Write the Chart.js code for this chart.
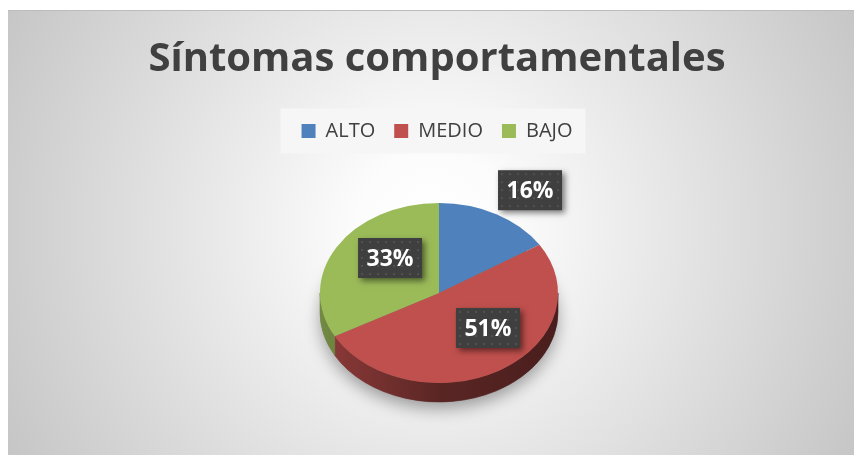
<!DOCTYPE html>
<html lang="es">
<head>
<meta charset="UTF-8">
<title>Síntomas comportamentales</title>
<script src="https://cdn.jsdelivr.net/npm/chart.js"></script>
<style>
  html, body { margin: 0; padding: 0; background: #fff; }
</style>
</head>
<body>
<canvas id="myChart" width="854" height="455"></canvas>
<script>
// chart data
const chartTitle = 'Síntomas comportamentales';
const categories = ['ALTO', 'MEDIO', 'BAJO'];
const values = [16, 51, 33];
const colors = ['#4f81bd', '#c0504d', '#9bbb59'];

// where the 3d pie sits on the page (tilted ellipse)
const PIE = { cx: 439, cy: 293, tilt: 0.756, depth: 19 };
// label anchor: radius factor and angle nudge (deg) from the slice middle
const LABEL_PLACE = [
  { f: 1.375, shift: 5 },
  { f: 0.566, shift: -16 },
  { f: 0.566, shift: 12.8 }
];

const shade = (hex, k) => {
  const n = parseInt(hex.slice(1), 16);
  const r = Math.round(((n >> 16) & 255) * k);
  const g = Math.round(((n >> 8) & 255) * k);
  const b = Math.round((n & 255) * k);
  return `rgb(${r},${g},${b})`;
};

// background gradient + legend panel
const bgPlugin = {
  id: 'bg',
  beforeDraw(chart) {
    const ctx = chart.ctx;
    ctx.save();
    ctx.fillStyle = '#fff';
    ctx.fillRect(0, 0, chart.width, chart.height);
    const g = ctx.createRadialGradient(432, 228, 0, 432, 228, 500);
    g.addColorStop(0, '#ffffff');
    g.addColorStop(0.15, '#fcfcfc');
    g.addColorStop(1, '#c3c3c3');
    ctx.fillStyle = g;
    ctx.fillRect(8, 10, chart.width - 8, chart.height - 10);
    ctx.fillStyle = '#bcbcbc';
    ctx.fillRect(8, 10, chart.width - 8, 1);

    const lg = chart.legend;
    if (lg && lg.legendHitBoxes && lg.legendHitBoxes.length) {
      const hb = lg.legendHitBoxes;
      const first = hb[0], last = hb[hb.length - 1];
      const left = first.left - 21;
      const right = last.left + last.width + 13;
      const mid = first.top + first.height / 2;
      ctx.fillStyle = '#f6f6f6';
      ctx.fillRect(left, mid - 22.5, right - left, 45);
    }
    ctx.restore();
  }
};

// draws side walls + shadow, then squashes the pie into an ellipse
const pie3d = {
  id: 'pie3d',
  beforeDatasetsDraw(chart) {
    const ctx = chart.ctx;
    const arcs = chart.getDatasetMeta(0).data;
    const rx = arcs[0].outerRadius;
    const ry = rx * PIE.tilt;
    const D = PIE.depth;

    ctx.save();
    ctx.shadowColor = 'rgba(0,0,0,0.35)';
    ctx.shadowBlur = 16;
    ctx.shadowOffsetY = 7;
    ctx.fillStyle = '#777';
    ctx.beginPath();
    ctx.ellipse(PIE.cx, PIE.cy + D, rx, ry, 0, 0, Math.PI * 2);
    ctx.fill();
    ctx.restore();

    arcs.forEach((arc, i) => {
      const s = arc.startAngle, e = arc.endAngle;
      for (let k = -1; k <= 1; k++) {
        const lo = Math.max(s, k * 2 * Math.PI);
        const hi = Math.min(e, k * 2 * Math.PI + Math.PI);
        if (hi <= lo) continue;
        const g = ctx.createLinearGradient(PIE.cx - rx, 0, PIE.cx + rx, 0);
        g.addColorStop(0, shade(colors[i], 0.74));
        g.addColorStop(0.5, shade(colors[i], 0.47));
        g.addColorStop(1, shade(colors[i], 0.38));
        ctx.save();
        ctx.fillStyle = g;
        ctx.strokeStyle = g;
        ctx.lineWidth = 0.6;
        ctx.beginPath();
        ctx.ellipse(PIE.cx, PIE.cy, rx, ry, 0, lo, hi);
        ctx.ellipse(PIE.cx, PIE.cy + D, rx, ry, 0, hi, lo, true);
        ctx.closePath();
        ctx.fill();
        ctx.stroke();
        ctx.restore();
      }
    });

    ctx.save();
    ctx.translate(PIE.cx, PIE.cy);
    ctx.scale(1, PIE.tilt);
    ctx.translate(-arcs[0].x, -arcs[0].y);
  },
  afterDatasetsDraw(chart) {
    const ctx = chart.ctx;
    ctx.restore();

    const arcs = chart.getDatasetMeta(0).data;
    const total = values.reduce((a, b) => a + b, 0);
    const w = 64, h = 40;
    arcs.forEach((arc, i) => {
      const p = LABEL_PLACE[i];
      const m = (arc.startAngle + arc.endAngle) / 2 + p.shift * Math.PI / 180;
      const rr = arc.outerRadius * p.f;
      const x = PIE.cx + rr * Math.cos(m);
      const y = PIE.cy + rr * PIE.tilt * Math.sin(m);
      const txt = Math.round(values[i] / total * 100) + '%';

      ctx.save();
      ctx.shadowColor = 'rgba(0,0,0,0.5)';
      ctx.shadowBlur = 6;
      ctx.shadowOffsetX = 3;
      ctx.shadowOffsetY = 3;
      ctx.fillStyle = '#3f3f3f';
      ctx.fillRect(x - w / 2, y - h / 2, w, h);
      ctx.restore();

      ctx.save();
      ctx.fillStyle = 'rgba(255,255,255,0.10)';
      for (let dx = 3; dx < w; dx += 8) {
        for (let dy = 3; dy < h; dy += 8) {
          ctx.fillRect(x - w / 2 + dx, y - h / 2 + dy, 2, 2);
        }
      }
      ctx.font = 'bold 23px "Open Sans"';
      ctx.fillStyle = '#ffffff';
      ctx.textAlign = 'center';
      ctx.textBaseline = 'middle';
      ctx.fillText(txt, x, y + 1);
      ctx.restore();
    });
  }
};

new Chart(document.getElementById('myChart'), {
  type: 'pie',
  data: {
    labels: categories,
    datasets: [{
      data: values,
      backgroundColor: colors,
      borderWidth: 0,
      radius: 119
    }]
  },
  options: {
    responsive: false,
    animation: false,
    events: [],
    layout: { padding: { left: 20 } },
    plugins: {
      title: {
        display: true,
        text: chartTitle,
        color: '#404040',
        font: { family: 'Open Sans', size: 40, weight: 'bold' },
        padding: { top: 36, bottom: 18 }
      },
      legend: {
        position: 'top',
        labels: {
          color: '#404040',
          font: { family: 'Open Sans', size: 20 },
          boxWidth: 14,
          boxHeight: 14,
          padding: 19
        }
      },
      tooltip: { enabled: false }
    }
  },
  plugins: [bgPlugin, pie3d]
});
</script>
</body>
</html>
